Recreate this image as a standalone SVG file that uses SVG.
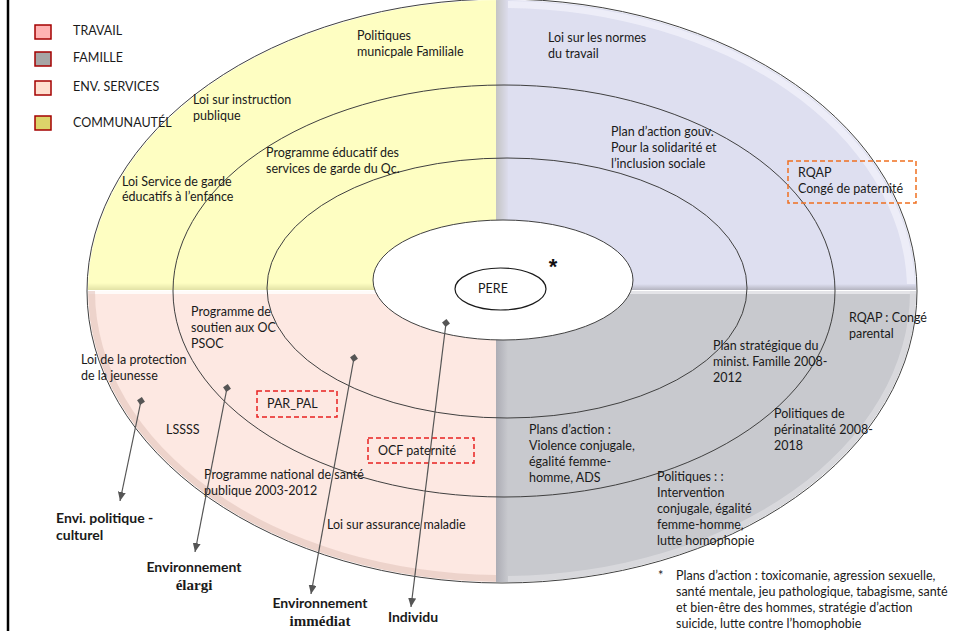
<svg xmlns="http://www.w3.org/2000/svg" width="954" height="631" viewBox="0 0 954 631">
<style>
.t{font-family:Lato,"Liberation Sans",sans-serif;font-size:12.5px;fill:#1a1a1a}
.lb{font-family:Lato,"Liberation Sans",sans-serif;font-size:14px;font-weight:bold;fill:#1a1a1a}
.ls{font-family:"Liberation Serif","DejaVu Serif",serif;font-size:15px;font-weight:bold;fill:#1a1a1a}
.ring{fill:none;stroke:#404040;stroke-width:1}
.conn{stroke:#555;stroke-width:1.2;fill:none;marker-start:url(#dia);marker-end:url(#arr)}
.leg{stroke:#a40000;stroke-width:1.5}
</style>
<defs>
<clipPath id="oc"><ellipse cx="502" cy="291" rx="414" ry="291"/></clipPath>
<linearGradient id="gTLb" x1="0" y1="0" x2="0" y2="1"><stop offset="0" stop-color="#fefec2"/><stop offset="1" stop-color="#e2e2a6"/></linearGradient>
<linearGradient id="gTRl" x1="0" y1="0" x2="1" y2="0"><stop offset="0" stop-color="#c4c4c4"/><stop offset="1" stop-color="#dcdcec"/></linearGradient>
<linearGradient id="gTRb" x1="0" y1="0" x2="0" y2="1"><stop offset="0" stop-color="#dedff0"/><stop offset="1" stop-color="#b4b4c0"/></linearGradient>
<linearGradient id="gBRl" x1="0" y1="0" x2="1" y2="0"><stop offset="0" stop-color="#acacb4"/><stop offset="1" stop-color="#c8c9ce"/></linearGradient>
<marker id="dia" markerUnits="userSpaceOnUse" markerWidth="8" markerHeight="8" refX="4" refY="4" orient="auto"><path d="M0,4 L4,0 L8,4 L4,8 Z" fill="#555"/></marker>
<marker id="arr" markerUnits="userSpaceOnUse" markerWidth="9" markerHeight="8" refX="9" refY="4" orient="auto"><path d="M0,0 L9,4 L0,8 Z" fill="#555"/></marker>
</defs>
<rect x="0" y="0" width="954" height="631" fill="#ffffff"/>
<line x1="8" y1="0" x2="8" y2="631" stroke="#000" stroke-width="2.5"/>

<g id="quadrants" clip-path="url(#oc)">
<rect x="0" y="0" width="496" height="290" fill="#fefec2"/>
<rect x="496" y="0" width="458" height="290" fill="#dedff0"/>
<rect x="0" y="291" width="496" height="340" fill="#fde8e2"/>
<rect x="496" y="291" width="458" height="340" fill="#c8c9ce"/>
<rect x="0" y="283" width="496" height="7" fill="url(#gTLb)"/>
<rect x="496" y="0" width="12" height="290" fill="url(#gTRl)"/>
<rect x="508" y="284" width="446" height="6" fill="url(#gTRb)"/>
<rect x="496" y="291" width="12" height="340" fill="url(#gBRl)"/>
<rect x="0" y="291" width="496" height="3" fill="#ffffff" opacity="0.8"/>
<rect x="508" y="291" width="446" height="3" fill="#e4e4e8"/>
<path d="M88,291 A414,291 0 0 0 496,582 L496,575 A407,284 0 0 1 95,291 Z" fill="#e2c4bc" opacity="0.6"/>
<path d="M508,1 A414,291 0 0 1 915,284 L907,284 A406,283 0 0 0 508,8 Z" fill="#f0f0fa" opacity="0.8"/>
<path d="M916,291 A414,291 0 0 1 508,582 L508,576 A408,285 0 0 0 910,291 Z" fill="#dcdce0" opacity="0.8"/>
</g>

<g id="rings">
<ellipse class="ring" cx="502" cy="291" rx="415" ry="292"/>
<ellipse class="ring" cx="504" cy="291" rx="331" ry="206"/>
<ellipse class="ring" cx="507" cy="288" rx="240" ry="130"/>
</g>

<g id="center">
<ellipse cx="503" cy="280" rx="130" ry="60" fill="#ffffff" stroke="#404040" stroke-width="1"/>
<text x="553" y="274" font-family="'Liberation Sans',sans-serif" font-size="22" font-weight="bold" text-anchor="middle" fill="#111">*</text>
</g>
<g id="pere">
<ellipse cx="500.5" cy="289" rx="45.5" ry="21" fill="#ffffff" stroke="#1a1a1a" stroke-width="1.2"/>
<text class="t" x="493" y="293" text-anchor="middle">PERE</text>
</g>

<g id="legend">
<rect class="leg" x="35" y="25" width="16" height="14" fill="#ffb3b3"/>
<text class="t" x="73" y="35">TRAVAIL</text>
<rect class="leg" x="35" y="52" width="16" height="14" fill="#a6a6a6"/>
<text class="t" x="73" y="62">FAMILLE</text>
<rect class="leg" x="35" y="81" width="16" height="14" fill="#ffdfcf"/>
<text class="t" x="73" y="91">ENV. SERVICES</text>
<rect class="leg" x="35" y="116" width="16" height="14" fill="#dcd46a"/>
<text class="t" x="73" y="127">COMMUNAUTÉL</text>
</g>

<g id="n-politiques-municipale"><text class="t" x="357" y="40">Politiques</text><text class="t" x="357" y="56">municpale Familiale</text></g>
<g id="n-loi-instruction"><text class="t" x="193" y="104">Loi sur instruction</text><text class="t" x="193" y="120">publique</text></g>
<g id="n-programme-educatif"><text class="t" x="266" y="157">Programme éducatif des</text><text class="t" x="266" y="173">services de garde du Qc.</text></g>
<g id="n-loi-service-garde"><text class="t" x="122" y="186">Loi Service de garde</text><text class="t" x="122" y="201">éducatifs à l’enfance</text></g>

<g id="n-loi-normes"><text class="t" x="548" y="42">Loi sur les normes</text><text class="t" x="548" y="58">du travail</text></g>
<g id="n-plan-action-gouv"><text class="t" x="611" y="136">Plan d’action gouv.</text><text class="t" x="611" y="152">Pour la solidarité et</text><text class="t" x="611" y="168">l’inclusion sociale</text></g>
<g id="n-rqap-paternite"><rect x="788" y="161" width="128" height="42" fill="none" stroke="#f07020" stroke-width="1.5" stroke-dasharray="5,3"/><text class="t" x="798" y="177">RQAP</text><text class="t" x="798" y="193">Congé de paternité</text></g>

<g id="n-programme-soutien"><text class="t" x="191" y="316">Programme de</text><text class="t" x="191" y="332">soutien aux OC</text><text class="t" x="191" y="348">PSOC</text></g>
<g id="n-loi-protection"><text class="t" x="81" y="364">Loi de la protection</text><text class="t" x="81" y="380">de la jeunesse</text></g>
<g id="n-lssss"><text class="t" x="166" y="434">LSSSS</text></g>
<g id="n-par-pal"><rect x="257" y="391" width="80" height="26" fill="none" stroke="#e82020" stroke-width="1.5" stroke-dasharray="5,3"/><text class="t" x="267" y="408">PAR_PAL</text></g>
<g id="n-ocf"><rect x="368" y="438" width="106" height="25" fill="none" stroke="#e82020" stroke-width="1.5" stroke-dasharray="5,3"/><text class="t" x="378" y="455">OCF paternité</text></g>
<g id="n-programme-national"><text class="t" x="204" y="479">Programme national de santé</text><text class="t" x="204" y="495">publique 2003-2012</text></g>
<g id="n-loi-assurance"><text class="t" x="327" y="529">Loi sur assurance maladie</text></g>

<g id="n-rqap-parental"><text class="t" x="849" y="322">RQAP : Congé</text><text class="t" x="849" y="338">parental</text></g>
<g id="n-plan-strategique"><text class="t" x="713" y="350">Plan stratégique du</text><text class="t" x="713" y="366">minist. Famille 2008-</text><text class="t" x="713" y="382">2012</text></g>
<g id="n-perinatalite"><text class="t" x="774" y="418">Politiques de</text><text class="t" x="774" y="434">périnatalité 2008-</text><text class="t" x="774" y="450">2018</text></g>
<g id="n-plans-action-violence"><text class="t" x="529" y="434">Plans d’action :</text><text class="t" x="529" y="450">Violence conjugale,</text><text class="t" x="529" y="466">égalité femme-</text><text class="t" x="529" y="482">homme, ADS</text></g>
<g id="n-politiques-intervention"><text class="t" x="657" y="481">Politiques : :</text><text class="t" x="657" y="497">Intervention</text><text class="t" x="657" y="513">conjugale, égalité</text><text class="t" x="657" y="529">femme-homme,</text><text class="t" x="657" y="545">lutte homophopie</text></g>

<g id="footnote"><text class="t" x="658" y="580">*</text><text class="t" x="676" y="580">Plans d’action : toxicomanie, agression sexuelle,</text><text class="t" x="676" y="596">santé mentale, jeu pathologique, tabagisme, santé</text><text class="t" x="676" y="612">et bien-être des hommes, stratégie d’action</text><text class="t" x="676" y="628">suicide, lutte contre l’homophobie</text></g>

<g id="connectors">
<line class="conn" x1="141" y1="401" x2="120" y2="501"/>
<line class="conn" x1="227" y1="388" x2="195" y2="552"/>
<line class="conn" x1="354" y1="358" x2="311" y2="594"/>
<line class="conn" x1="446" y1="323" x2="411" y2="607"/>
</g>

<g id="l-envi-politique"><text class="lb" x="56" y="523">Envi. politique -</text><text class="lb" x="56" y="540">culturel</text></g>
<g id="l-env-elargi"><text class="lb" x="194" y="572" text-anchor="middle">Environnement</text><text class="ls" x="194" y="590" text-anchor="middle">élargi</text></g>
<g id="l-env-immediat"><text class="lb" x="320" y="608" text-anchor="middle">Environnement</text><text class="ls" x="320" y="626" text-anchor="middle">immédiat</text></g>
<g id="l-individu"><text class="lb" x="413" y="622" text-anchor="middle">Individu</text></g>
</svg>
